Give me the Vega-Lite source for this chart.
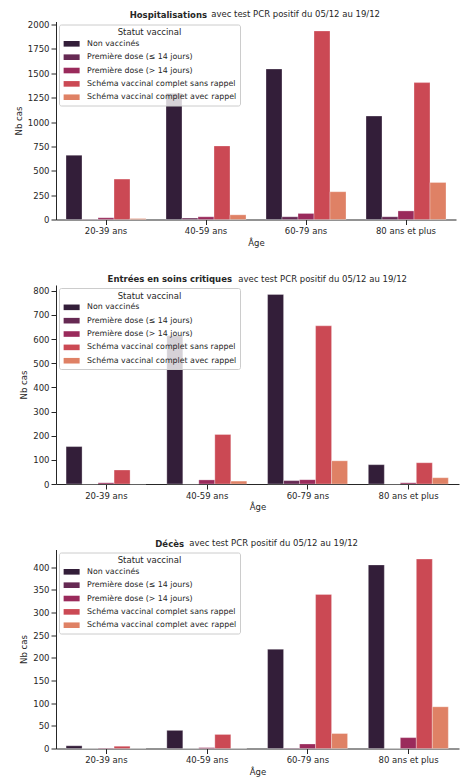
{
  "$schema": "https://vega.github.io/schema/vega-lite/v6.json",
  "padding": {"left": 14, "top": 9.5, "right": 10, "bottom": 2},
  "spacing": 27.5,
  "config": {
    "font": "DejaVu Sans",
    "view": {"stroke": null},
    "title": {"font": "DejaVu Sans", "fontSize": 8.5, "color": "#262626"},
    "axis": {
      "grid": false,
      "domainColor": "#262626",
      "tickColor": "#262626",
      "labelColor": "#262626",
      "titleColor": "#262626",
      "labelFont": "DejaVu Sans",
      "titleFont": "DejaVu Sans",
      "labelFontSize": 8.5,
      "titleFontSize": 8.5,
      "titleFontWeight": "normal",
      "tickSize": 5,
      "labelPadding": 2,
      "domainWidth": 1,
      "tickWidth": 1
    },
    "axisX": {"titlePadding": 3, "labelAngle": 0},
    "axisY": {"titlePadding": 4},
    "legend": {
      "orient": "top-left",
      "offset": 3,
      "padding": 3.5,
      "fillColor": "rgba(255,255,255,0.8)",
      "strokeColor": "#cccccc",
      "cornerRadius": 2,
      "titleFont": "DejaVu Sans",
      "titleFontSize": 8.5,
      "titleFontWeight": "normal",
      "titleColor": "#262626",
      "titleAnchor": "middle",
      "titlePadding": 3.4,
      "labelFont": "DejaVu Sans",
      "labelFontSize": 7.85,
      "labelLimit": 0,
      "labelColor": "#262626",
      "symbolType": "M-2.857,-1H2.857V1H-2.857Z",
      "symbolSize": 31.36,
      "symbolStrokeWidth": 0,
      "symbolOpacity": 1,
      "symbolOffset": 5.2,
      "labelOffset": 11.5,
      "rowPadding": 4.35
    }
  },
  "datasets": {
    "hosp": [
      {"age": "20-39 ans", "statut": "Non vaccinés", "n": 660},
      {"age": "20-39 ans", "statut": "Première dose (≤ 14 jours)", "n": 3},
      {"age": "20-39 ans", "statut": "Première dose (> 14 jours)", "n": 18},
      {"age": "20-39 ans", "statut": "Schéma vaccinal complet sans rappel", "n": 415},
      {"age": "20-39 ans", "statut": "Schéma vaccinal complet avec rappel", "n": 10},
      {"age": "40-59 ans", "statut": "Non vaccinés", "n": 1295},
      {"age": "40-59 ans", "statut": "Première dose (≤ 14 jours)", "n": 15},
      {"age": "40-59 ans", "statut": "Première dose (> 14 jours)", "n": 28},
      {"age": "40-59 ans", "statut": "Schéma vaccinal complet sans rappel", "n": 755},
      {"age": "40-59 ans", "statut": "Schéma vaccinal complet avec rappel", "n": 48},
      {"age": "60-79 ans", "statut": "Non vaccinés", "n": 1545},
      {"age": "60-79 ans", "statut": "Première dose (≤ 14 jours)", "n": 28},
      {"age": "60-79 ans", "statut": "Première dose (> 14 jours)", "n": 62},
      {"age": "60-79 ans", "statut": "Schéma vaccinal complet sans rappel", "n": 1935},
      {"age": "60-79 ans", "statut": "Schéma vaccinal complet avec rappel", "n": 285},
      {"age": "80 ans et plus", "statut": "Non vaccinés", "n": 1062},
      {"age": "80 ans et plus", "statut": "Première dose (≤ 14 jours)", "n": 28},
      {"age": "80 ans et plus", "statut": "Première dose (> 14 jours)", "n": 88},
      {"age": "80 ans et plus", "statut": "Schéma vaccinal complet sans rappel", "n": 1405},
      {"age": "80 ans et plus", "statut": "Schéma vaccinal complet avec rappel", "n": 380}
    ],
    "rea": [
      {"age": "20-39 ans", "statut": "Non vaccinés", "n": 155},
      {"age": "20-39 ans", "statut": "Première dose (≤ 14 jours)", "n": 0},
      {"age": "20-39 ans", "statut": "Première dose (> 14 jours)", "n": 5},
      {"age": "20-39 ans", "statut": "Schéma vaccinal complet sans rappel", "n": 58},
      {"age": "20-39 ans", "statut": "Schéma vaccinal complet avec rappel", "n": 0},
      {"age": "40-59 ans", "statut": "Non vaccinés", "n": 615},
      {"age": "40-59 ans", "statut": "Première dose (≤ 14 jours)", "n": 0},
      {"age": "40-59 ans", "statut": "Première dose (> 14 jours)", "n": 17},
      {"age": "40-59 ans", "statut": "Schéma vaccinal complet sans rappel", "n": 205},
      {"age": "40-59 ans", "statut": "Schéma vaccinal complet avec rappel", "n": 12},
      {"age": "60-79 ans", "statut": "Non vaccinés", "n": 785},
      {"age": "60-79 ans", "statut": "Première dose (≤ 14 jours)", "n": 14},
      {"age": "60-79 ans", "statut": "Première dose (> 14 jours)", "n": 18},
      {"age": "60-79 ans", "statut": "Schéma vaccinal complet sans rappel", "n": 655},
      {"age": "60-79 ans", "statut": "Schéma vaccinal complet avec rappel", "n": 96},
      {"age": "80 ans et plus", "statut": "Non vaccinés", "n": 80},
      {"age": "80 ans et plus", "statut": "Première dose (≤ 14 jours)", "n": 0},
      {"age": "80 ans et plus", "statut": "Première dose (> 14 jours)", "n": 5},
      {"age": "80 ans et plus", "statut": "Schéma vaccinal complet sans rappel", "n": 88},
      {"age": "80 ans et plus", "statut": "Schéma vaccinal complet avec rappel", "n": 26}
    ],
    "dc": [
      {"age": "20-39 ans", "statut": "Non vaccinés", "n": 6},
      {"age": "20-39 ans", "statut": "Première dose (≤ 14 jours)", "n": 0},
      {"age": "20-39 ans", "statut": "Première dose (> 14 jours)", "n": 1},
      {"age": "20-39 ans", "statut": "Schéma vaccinal complet sans rappel", "n": 5},
      {"age": "20-39 ans", "statut": "Schéma vaccinal complet avec rappel", "n": 0},
      {"age": "40-59 ans", "statut": "Non vaccinés", "n": 40},
      {"age": "40-59 ans", "statut": "Première dose (≤ 14 jours)", "n": 0},
      {"age": "40-59 ans", "statut": "Première dose (> 14 jours)", "n": 2},
      {"age": "40-59 ans", "statut": "Schéma vaccinal complet sans rappel", "n": 31},
      {"age": "40-59 ans", "statut": "Schéma vaccinal complet avec rappel", "n": 0},
      {"age": "60-79 ans", "statut": "Non vaccinés", "n": 219},
      {"age": "60-79 ans", "statut": "Première dose (≤ 14 jours)", "n": 1},
      {"age": "60-79 ans", "statut": "Première dose (> 14 jours)", "n": 10},
      {"age": "60-79 ans", "statut": "Schéma vaccinal complet sans rappel", "n": 340},
      {"age": "60-79 ans", "statut": "Schéma vaccinal complet avec rappel", "n": 33},
      {"age": "80 ans et plus", "statut": "Non vaccinés", "n": 405},
      {"age": "80 ans et plus", "statut": "Première dose (≤ 14 jours)", "n": 0},
      {"age": "80 ans et plus", "statut": "Première dose (> 14 jours)", "n": 24},
      {"age": "80 ans et plus", "statut": "Schéma vaccinal complet sans rappel", "n": 418},
      {"age": "80 ans et plus", "statut": "Schéma vaccinal complet avec rappel", "n": 92}
    ]
  },
  "vconcat": [
    {
      "title": {"text": "Hospitalisations", "fontWeight": "bold", "anchor": "end", "frame": "bounds", "dx": -249, "offset": -18, "baseline": "bottom"},
      "vconcat": [
        {
          "data": {"name": "hosp"},
          "width": 400,
          "height": 198,
          "title": {"text": "avec test PCR positif du 05/12 au 19/12", "anchor": "end", "frame": "group", "dx": -76, "offset": -7, "baseline": "bottom", "fontWeight": "normal"},
          "mark": {"type": "bar", "stroke": "white", "strokeWidth": 0.5, "strokeOpacity": 0.6},
          "encoding": {
            "x": {"field": "age", "type": "nominal", "sort": ["20-39 ans", "40-59 ans", "60-79 ans", "80 ans et plus"], "scale": {"paddingInner": 0.2, "paddingOuter": 0.1}, "axis": {"title": "Âge"}},
            "xOffset": {"field": "statut", "type": "nominal", "scale": {"domain": ["Non vaccinés", "Première dose (≤ 14 jours)", "Première dose (> 14 jours)", "Schéma vaccinal complet sans rappel", "Schéma vaccinal complet avec rappel"], "paddingInner": 0, "paddingOuter": 0}},
            "y": {"field": "n", "type": "quantitative", "scale": {"domain": [0, 2032], "nice": false}, "axis": {"title": "Nb cas", "values": [0, 250, 500, 750, 1000, 1250, 1500, 1750, 2000], "format": "d"}},
            "color": {"field": "statut", "type": "nominal", "scale": {"domain": ["Non vaccinés", "Première dose (≤ 14 jours)", "Première dose (> 14 jours)", "Schéma vaccinal complet sans rappel", "Schéma vaccinal complet avec rappel"], "range": ["#331e39", "#662953", "#9a2a5b", "#cb4954", "#df8165"]}, "legend": {"title": "Statut vaccinal"}}
          }
        }
      ]
    },
    {
      "title": {"text": "Entrées en soins critiques", "fontWeight": "bold", "anchor": "end", "frame": "bounds", "dx": -227, "offset": -18, "baseline": "bottom"},
      "vconcat": [
        {
          "data": {"name": "rea"},
          "width": 403,
          "height": 199,
          "title": {"text": "avec test PCR positif du 05/12 au 19/12", "anchor": "end", "frame": "group", "dx": -52, "offset": -7, "baseline": "bottom", "fontWeight": "normal"},
          "mark": {"type": "bar", "stroke": "white", "strokeWidth": 0.5, "strokeOpacity": 0.6},
          "encoding": {
            "x": {"field": "age", "type": "nominal", "sort": ["20-39 ans", "40-59 ans", "60-79 ans", "80 ans et plus"], "scale": {"paddingInner": 0.2, "paddingOuter": 0.1}, "axis": {"title": "Âge"}},
            "xOffset": {"field": "statut", "type": "nominal", "scale": {"domain": ["Non vaccinés", "Première dose (≤ 14 jours)", "Première dose (> 14 jours)", "Schéma vaccinal complet sans rappel", "Schéma vaccinal complet avec rappel"], "paddingInner": 0, "paddingOuter": 0}},
            "y": {"field": "n", "type": "quantitative", "scale": {"domain": [0, 824], "nice": false}, "axis": {"title": "Nb cas", "values": [0, 100, 200, 300, 400, 500, 600, 700, 800], "format": "d"}},
            "color": {"field": "statut", "type": "nominal", "scale": {"domain": ["Non vaccinés", "Première dose (≤ 14 jours)", "Première dose (> 14 jours)", "Schéma vaccinal complet sans rappel", "Schéma vaccinal complet avec rappel"], "range": ["#331e39", "#662953", "#9a2a5b", "#cb4954", "#df8165"]}, "legend": {"title": "Statut vaccinal"}}
          }
        }
      ]
    },
    {
      "title": {"text": "Décès", "fontWeight": "bold", "anchor": "end", "frame": "bounds", "dx": -275, "offset": -18, "baseline": "bottom"},
      "vconcat": [
        {
          "data": {"name": "dc"},
          "width": 403,
          "height": 199,
          "title": {"text": "avec test PCR positif du 05/12 au 19/12", "anchor": "end", "frame": "group", "dx": -101, "offset": -7, "baseline": "bottom", "fontWeight": "normal"},
          "mark": {"type": "bar", "stroke": "white", "strokeWidth": 0.5, "strokeOpacity": 0.6},
          "encoding": {
            "x": {"field": "age", "type": "nominal", "sort": ["20-39 ans", "40-59 ans", "60-79 ans", "80 ans et plus"], "scale": {"paddingInner": 0.2, "paddingOuter": 0.1}, "axis": {"title": "Âge"}},
            "xOffset": {"field": "statut", "type": "nominal", "scale": {"domain": ["Non vaccinés", "Première dose (≤ 14 jours)", "Première dose (> 14 jours)", "Schéma vaccinal complet sans rappel", "Schéma vaccinal complet avec rappel"], "paddingInner": 0, "paddingOuter": 0}},
            "y": {"field": "n", "type": "quantitative", "scale": {"domain": [0, 439], "nice": false}, "axis": {"title": "Nb cas", "values": [0, 50, 100, 150, 200, 250, 300, 350, 400], "format": "d"}},
            "color": {"field": "statut", "type": "nominal", "scale": {"domain": ["Non vaccinés", "Première dose (≤ 14 jours)", "Première dose (> 14 jours)", "Schéma vaccinal complet sans rappel", "Schéma vaccinal complet avec rappel"], "range": ["#331e39", "#662953", "#9a2a5b", "#cb4954", "#df8165"]}, "legend": {"title": "Statut vaccinal"}}
          }
        }
      ]
    }
  ],
  "resolve": {"legend": {"color": "independent"}}
}
